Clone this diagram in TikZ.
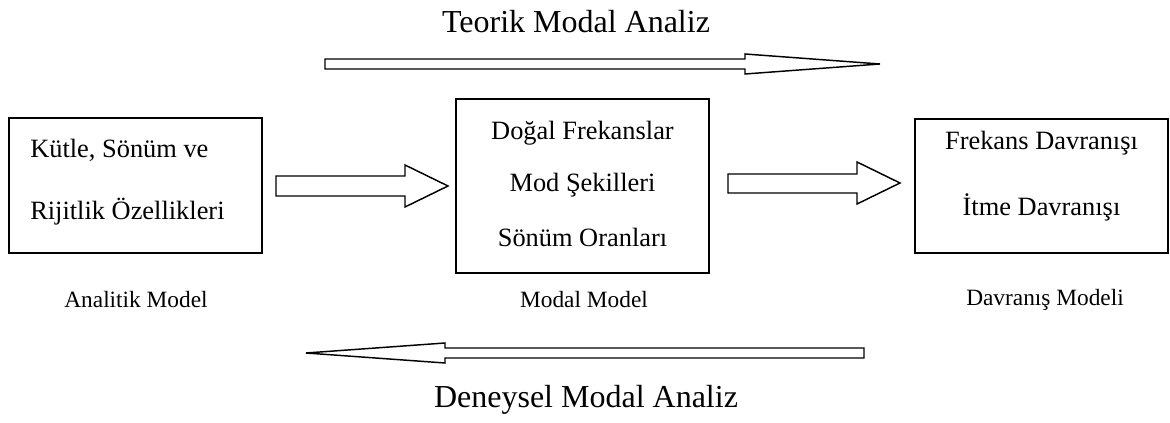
\documentclass[tikz,border=0pt]{standalone}
\usepackage{fontspec}
\setmainfont{Liberation Serif}
\begin{document}
\begin{tikzpicture}[x=0.75pt,y=-0.75pt,
  box/.style={draw,line width=1.2pt,minimum width=253*0.75pt,inner sep=0pt},
  boxtext/.style={font=\fontsize{19.8}{23}\selectfont},
  lbl/.style={font=\fontsize{17.5}{21}\selectfont},
  ttl/.style={font=\fontsize{24}{28}\selectfont},
  blockarrow/.style={draw,line width=1.1pt,line join=miter,fill=white}]
\useasboundingbox (0,0) rectangle (1170,423);
% boxes
\node[box,minimum height=135*0.75pt] (ana) at (135.5,185.5) {};
\node[box,minimum height=174*0.75pt] (mod) at (582.5,186) {};
\node[box,minimum height=134*0.75pt] (dav) at (1041.5,186) {};
% box texts
\node[boxtext,anchor=west,inner sep=0pt] (k1) at (30,150) {Kütle, Sönüm ve};
\node[boxtext,anchor=west,inner sep=0pt] (k2) at (30,212) {Rijitlik Özellikleri};
\node[boxtext] (m1) at (582.5,133) {Doğal Frekanslar};
\node[boxtext] (m2) at (582.5,185) {Mod Şekilleri};
\node[boxtext] (m3) at (582.5,237) {Sönüm Oranları};
\node[boxtext] (d1) at (1041.5,143) {Frekans Davranışı};
\node[boxtext] (d2) at (1041.5,207) {İtme Davranışı};
% labels
\node[lbl] (la) at (136,300) {Analitik Model};
\node[lbl] (lm) at (584,300) {Modal Model};
\node[lbl] (ld) at (1045,300) {Davranış Modeli};
\node[ttl] (tt) at (576,22) {Teorik Modal Analiz};
\node[ttl] (td) at (586,400) {Deneysel Modal Analiz};
% block arrows
\draw[blockarrow] (276,176) -- (405,176) -- (405,165) -- (448,186) -- (405,207) -- (405,196) -- (276,196) -- cycle;
\draw[blockarrow] (728,174) -- (857,174) -- (857,162) -- (900,183) -- (857,204) -- (857,193) -- (728,193) -- cycle;
\draw[blockarrow] (325,59) -- (745,59) -- (745,54) -- (880,64) -- (745,74) -- (745,69) -- (325,69) -- cycle;
\draw[blockarrow] (864,348) -- (445,348) -- (445,343) -- (306,353) -- (445,363) -- (445,358) -- (864,358) -- cycle;
\end{tikzpicture}
\end{document}
